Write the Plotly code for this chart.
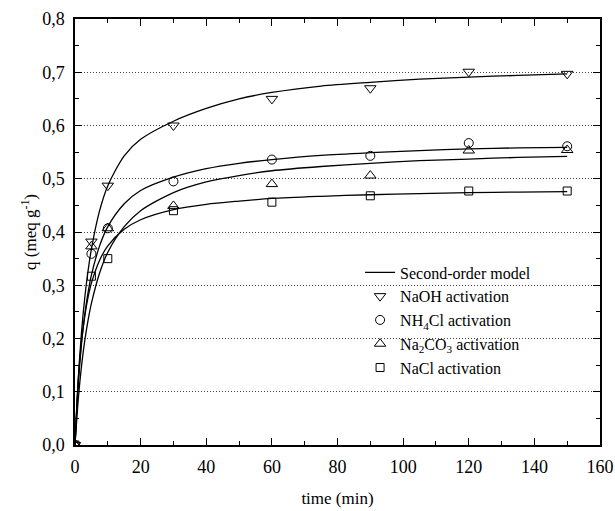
import plotly.graph_objects as go

# Experimental data (time in min, q in meq/g)
t_data = [0, 5, 10, 30, 60, 90, 120, 150]
q_naoh = [0, 0.382, 0.487, 0.600, 0.650, 0.670, 0.701, 0.697]
q_nh4cl = [0, 0.359, 0.407, 0.495, 0.536, 0.543, 0.567, 0.561]
q_na2co3 = [0, 0.373, 0.407, 0.449, 0.490, 0.506, 0.553, 0.554]
q_nacl = [0, 0.317, 0.350, 0.440, 0.456, 0.468, 0.477, 0.477]

# Second-order model curves
t_model = [0, 1, 2, 3, 4, 5, 7.5, 10, 15, 20, 30, 40, 50, 60, 75, 90, 105, 120, 135, 150]
m_naoh = [0, 0.125, 0.213, 0.278, 0.328, 0.368, 0.440, 0.487, 0.543, 0.574, 0.608, 0.632,
          0.650, 0.662, 0.674, 0.681, 0.687, 0.691, 0.694, 0.697]
m_nh4cl = [0, 0.115, 0.191, 0.246, 0.287, 0.319, 0.374, 0.410, 0.453, 0.478, 0.503, 0.519,
           0.529, 0.536, 0.544, 0.549, 0.553, 0.556, 0.558, 0.559]
m_na2co3 = [0, 0.086, 0.149, 0.197, 0.235, 0.266, 0.323, 0.362, 0.410, 0.440, 0.474, 0.494,
            0.506, 0.515, 0.523, 0.529, 0.534, 0.537, 0.540, 0.542]
m_nacl = [0, 0.122, 0.195, 0.243, 0.278, 0.304, 0.347, 0.374, 0.405, 0.423, 0.442, 0.452,
          0.458, 0.463, 0.467, 0.470, 0.472, 0.474, 0.475, 0.476]

x_ticks = [0, 20, 40, 60, 80, 100, 120, 140, 160]
y_ticks = [0.0, 0.1, 0.2, 0.3, 0.4, 0.5, 0.6, 0.7, 0.8]

FONT = "Liberation Serif"

fig = go.Figure()

for i, m in enumerate([m_naoh, m_nh4cl, m_na2co3, m_nacl]):
    fig.add_trace(go.Scatter(
        x=t_model, y=m, mode="lines", line=dict(color="black", width=1.3, shape="spline", smoothing=0.8),
        name="Second-order model", showlegend=(i == 0), legendgroup="model"))

series = [
    ("NaOH activation", q_naoh, "triangle-down-open", 10),
    ("NH<sub>4</sub>Cl activation", q_nh4cl, "circle-open", 9),
    ("Na<sub>2</sub>CO<sub>3</sub> activation", q_na2co3, "triangle-up-open", 10),
    ("NaCl activation", q_nacl, "square-open", 8),
]
for name, q, sym, sz in series:
    fig.add_trace(go.Scatter(
        x=t_data, y=q, mode="markers", name=name,
        marker=dict(symbol=sym, size=sz, color="black", line=dict(color="black", width=1)),
        cliponaxis=True))

axis_common = dict(
    showline=True, linecolor="black", linewidth=1.5, mirror="allticks",
    ticks="inside", ticklen=7, tickwidth=1.2, tickcolor="black",
    tickfont=dict(family=FONT, size=18, color="black"), zeroline=False,
    automargin=False,
)

fig.update_xaxes(
    range=[0, 160], tickvals=x_ticks, showgrid=False,
    minor=dict(ticks="inside", ticklen=4, tickwidth=1.2, tickcolor="black", dtick=10, showgrid=False),
    title=dict(text="time (min)", font=dict(family=FONT, size=17, color="black"), standoff=16),
    ticklabelstandoff=5,
    **axis_common)
fig.update_yaxes(
    range=[0, 0.8], tickvals=y_ticks, tickformat=".1f",
    showgrid=True, gridcolor="#444444", gridwidth=1, griddash="1px,2px",
    minor=dict(ticks="inside", ticklen=4, tickwidth=1.2, tickcolor="black", dtick=0.05, showgrid=False),
    title=dict(text="q (meq g<sup>-1</sup>)", font=dict(family=FONT, size=17, color="black"), standoff=1),
    ticklabelstandoff=5,
    **axis_common)

fig.update_layout(
    width=615, height=511,
    margin=dict(l=75, r=15, t=19, b=66),
    paper_bgcolor="white", plot_bgcolor="white",
    separators=",.",
    font=dict(family=FONT, size=17, color="black"),
    legend=dict(x=0.543, y=0.445, xanchor="left", yanchor="top",
                bgcolor="rgba(0,0,0,0)", font=dict(family=FONT, size=16, color="black"),
                tracegroupgap=0, itemwidth=30),
    showlegend=True,
)

fig.write_html("out.html")
